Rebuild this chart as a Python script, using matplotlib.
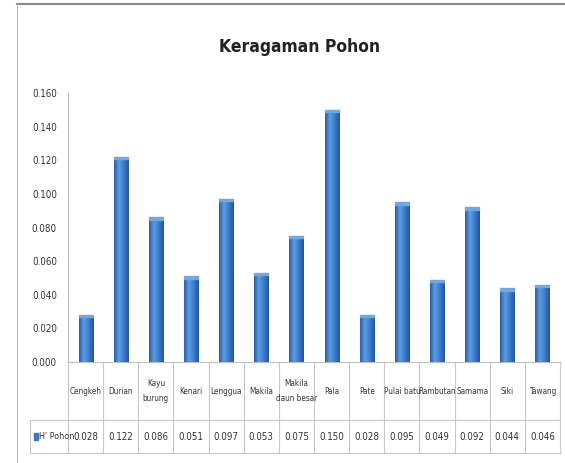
import numpy as np
import matplotlib
matplotlib.use("Agg")
import matplotlib.pyplot as plt
from matplotlib.colors import LinearSegmentedColormap

plt.rcParams['font.family'] = ['DejaVu Sans']
plt.rcParams['font.stretch'] = 'condensed'

# data
jenis = ['Cengkeh', 'Durian', 'Kayu\nburung', 'Kenari', 'Lenggua', 'Makila',
         'Makila\ndaun besar', 'Pala', 'Pate', 'Pulai batu', 'Rambutan',
         'Samama', 'Siki', 'Tawang']
h_pohon = [0.028, 0.122, 0.086, 0.051, 0.097, 0.053, 0.075, 0.150, 0.028,
           0.095, 0.049, 0.092, 0.044, 0.046]
seri = "H' Pohon"
yticks = [0.000, 0.020, 0.040, 0.060, 0.080, 0.100, 0.120, 0.140, 0.160]

W, H = 565, 463
fig = plt.figure(figsize=(W / 100, H / 100), dpi=100)
fig.patch.set_facecolor('white')

# outer frame (top and left edge visible)
fig.add_artist(plt.Line2D([17 / W, 1], [1 - 4 / H, 1 - 4 / H], color='#8a8a8a', lw=1.5))
fig.add_artist(plt.Line2D([17 / W, 17 / W], [0, 1 - 4 / H], color='#bbbbbb', lw=0.8))

ax = fig.add_axes([68 / W, 101 / H, 492 / W, 269 / H])
x = np.arange(len(jenis))
bars = ax.bar(x, h_pohon, width=0.4, color='#3a78c8', edgecolor='#2c5d9e', linewidth=0.6, zorder=2)

# shaded look of the Excel columns
cmap = LinearSegmentedColormap.from_list('kolom', ['#2a5ea6', '#5c9de2', '#3b7bcb', '#24549a'])
grad = np.linspace(0, 1, 64).reshape(1, -1)
for b in bars:
    x0, w, h = b.get_x(), b.get_width(), b.get_height()
    im = ax.imshow(grad, extent=[x0, x0 + w, 0, h], cmap=cmap, aspect='auto', zorder=3)
    im.set_clip_path(b)
    ax.add_patch(plt.Rectangle((x0, h - 0.0015), w, 0.0015, color='#6fa8e6', zorder=4))

ax.set_xlim(-0.5, len(jenis) - 0.5)
ax.set_ylim(0, 0.16)
ax.set_yticks(yticks)
ax.set_yticklabels([f'{v:.3f}' for v in yticks], fontsize=7, color='#333333')
ax.tick_params(axis='y', length=0, pad=8)
ax.set_xticks([])
for s in ['top', 'right']:
    ax.spines[s].set_visible(False)
ax.spines['left'].set_color('#c0c0c0')
ax.spines['bottom'].set_color('#c0c0c0')

# data table below the plot
tb = fig.add_axes([68 / W, 10 / H, 492 / W, 91 / H])
tb.set_xlim(-0.5, len(jenis) - 0.5)
tb.set_ylim(0, 91)
tb.axis('off')
gc = '#c8c8c8'
left = -0.5 - 38 / (492 / len(jenis))
for i in range(len(jenis) + 1):
    tb.plot([i - 0.5, i - 0.5], [0, 91], color=gc, lw=0.8, clip_on=False)
tb.plot([left, len(jenis) - 0.5], [33, 33], color=gc, lw=0.8, clip_on=False)
tb.plot([left, len(jenis) - 0.5], [0, 0], color=gc, lw=0.8, clip_on=False)
tb.plot([left, left], [0, 33], color=gc, lw=0.8, clip_on=False)
for i, (n, v) in enumerate(zip(jenis, h_pohon)):
    tb.text(i, 62, n, ha='center', va='center', fontsize=5.9, color='#333333', linespacing=1.8)
    tb.text(i, 16.5, f'{v:.3f}', ha='center', va='center', fontsize=7, color='#333333')
tb.add_patch(plt.Rectangle((left + 0.1, 13), 0.14, 7, color='#3a78c8', clip_on=False))
tb.text(left + 0.27, 16.5, seri, ha='left', va='center', fontsize=6.5, color='#333333')

fig.text(300 / W, 1 - 47 / H, 'Keragaman Pohon', ha='center', va='center',
         fontsize=12.5, fontweight='bold', color='#222222')

fig.savefig('out.png', dpi=100)
